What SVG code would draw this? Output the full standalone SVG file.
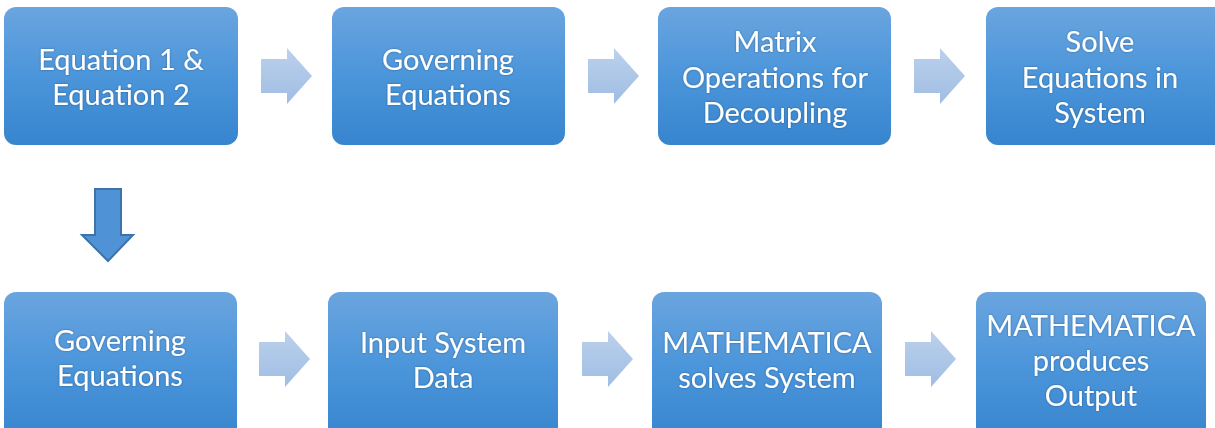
<svg xmlns="http://www.w3.org/2000/svg" width="1215" height="428" viewBox="0 0 1215 428">
  <defs>
    <linearGradient id="boxFill" x1="0" y1="0" x2="0" y2="1">
      <stop offset="0" stop-color="#6aa5df"/>
      <stop offset="0.5" stop-color="#4b95da"/>
      <stop offset="1" stop-color="#3785cf"/>
    </linearGradient>
    <linearGradient id="arrowFill" x1="0" y1="0" x2="0" y2="1">
      <stop offset="0" stop-color="#bcd1ec"/>
      <stop offset="1" stop-color="#9fbde3"/>
    </linearGradient>
    <filter id="glow" x="-10%" y="-30%" width="120%" height="160%">
      <feGaussianBlur in="SourceAlpha" stdDeviation="0.8"/>
      <feComponentTransfer><feFuncA type="linear" slope="0.35"/></feComponentTransfer>
      <feMerge><feMergeNode/><feMergeNode in="SourceGraphic"/></feMerge>
    </filter>
    <path id="rightArrow" d="M0,-17 H26 V-28 L51,0 L26,28 V17 H0 Z"/>
  </defs>
  <style>
    .box { fill: url(#boxFill); }
    .label { font-family: Lato, "Open Sans", sans-serif; font-size: 29px; fill: #ffffff; text-anchor: middle; filter: url(#glow); }
    .flow { fill: url(#arrowFill); }
    .down { fill: #4f92d6; stroke: #3d72aa; stroke-width: 2; }
  </style>
  <rect width="1215" height="428" fill="#ffffff"/>

  <!-- top row -->
  <g id="eq12">
    <rect class="box" x="4" y="7" width="234" height="138" rx="12"/>
    <text class="label" x="121" y="70">Equation 1 &amp;</text>
    <text class="label" x="121" y="105">Equation 2</text>
  </g>
  <g id="governing-top">
    <rect class="box" x="332" y="7" width="233" height="138" rx="12"/>
    <text class="label" x="448" y="70">Governing</text>
    <text class="label" x="448" y="105">Equations</text>
  </g>
  <g id="matrix-ops">
    <rect class="box" x="658" y="7" width="233" height="138" rx="12"/>
    <text class="label" x="775" y="52">Matrix</text>
    <text class="label" x="775" y="88">Operations for</text>
    <text class="label" x="775" y="123">Decoupling</text>
  </g>
  <g id="solve">
    <rect class="box" x="986" y="7" width="240" height="138" rx="12"/>
    <text class="label" x="1100" y="52">Solve</text>
    <text class="label" x="1100" y="88">Equations in</text>
    <text class="label" x="1100" y="123">System</text>
  </g>

  <!-- bottom row -->
  <g id="governing-bottom">
    <rect class="box" x="4" y="292" width="233" height="150" rx="12"/>
    <text class="label" x="120" y="351">Governing</text>
    <text class="label" x="120" y="386">Equations</text>
  </g>
  <g id="input-data">
    <rect class="box" x="328" y="292" width="230" height="150" rx="12"/>
    <text class="label" x="443" y="353">Input System</text>
    <text class="label" x="443" y="388">Data</text>
  </g>
  <g id="mathematica-solves">
    <rect class="box" x="652" y="292" width="230" height="150" rx="12"/>
    <text class="label" x="767" y="353">MATHEMATICA</text>
    <text class="label" x="767" y="388">solves System</text>
  </g>
  <g id="mathematica-output">
    <rect class="box" x="976" y="292" width="230" height="150" rx="12"/>
    <text class="label" x="1091" y="336">MATHEMATICA</text>
    <text class="label" x="1091" y="371">produces</text>
    <text class="label" x="1091" y="406">Output</text>
  </g>

  <!-- connectors -->
  <g id="connectors">
    <use href="#rightArrow" class="flow" x="261" y="76"/>
    <use href="#rightArrow" class="flow" x="588" y="76"/>
    <use href="#rightArrow" class="flow" x="914" y="76"/>
    <use href="#rightArrow" class="flow" x="259" y="359"/>
    <use href="#rightArrow" class="flow" x="582" y="359"/>
    <use href="#rightArrow" class="flow" x="905" y="359"/>
    <path class="down" d="M95,189 H121 V235 H133 L108,261 L82,235 H95 Z"/>
  </g>
</svg>
